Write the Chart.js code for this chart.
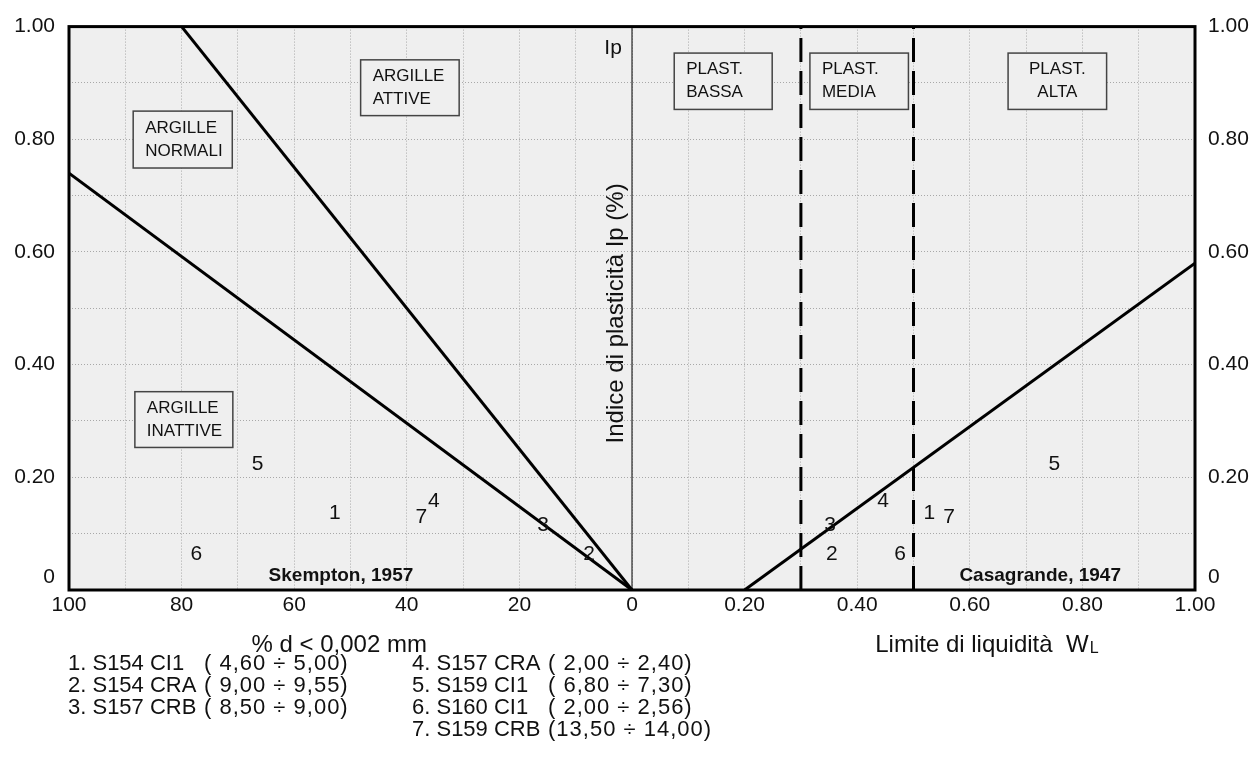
<!DOCTYPE html>
<html lang="it">
<head>
<meta charset="UTF-8">
<title>Carta di attività e carta di plasticità</title>
<script src="https://cdn.jsdelivr.net/npm/chart.js"></script>
<style>
  html, body { margin: 0; padding: 0; background: #ffffff; }
  canvas { display: block; }
</style>
</head>
<body>
<canvas id="plastChart" width="1255" height="766"></canvas>
<script>
// Campioni: numero, % argilla (d < 0,002 mm), limite liquido, indice di plasticità
const sampleLabels = ['1', '2', '3', '4', '5', '6', '7'];
const clayPercent = [52.8, 7.6, 15.8, 35.2, 66.5, 77.4, 37.4];
const liquidLimit = [0.528, 0.355, 0.352, 0.446, 0.75, 0.476, 0.563];
const plasticityIndex = [0.136, 0.064, 0.115, 0.158, 0.223, 0.064, 0.129];

// Sigla e profondità dei campioni (legenda sotto il grafico)
const sampleNames = ['S154 CI1', 'S154 CRA', 'S157 CRB', 'S157 CRA', 'S159 CI1', 'S160 CI1', 'S159 CRB'];
const sampleDepths = ['( 4,60 ÷ 5,00)', '( 9,00 ÷ 9,55)', '( 8,50 ÷ 9,00)', '( 2,00 ÷ 2,40)',
                      '( 6,80 ÷ 7,30)', '( 2,00 ÷ 2,56)', '(13,50 ÷ 14,00)'];

// Skempton 1957: rette di attività (estremi)
const skemptonInactive = [{x: 0, y: 0}, {x: 100, y: 0.74}];
const skemptonActive = [{x: 0, y: 0}, {x: 80, y: 1.00}];

// Casagrande 1947: linea A e limiti di plasticità bassa / media / alta
const casagrandeA = [{x: 0.20, y: 0}, {x: 1.00, y: 0.58}];
const plasticityLimits = [0.30, 0.50];

const FONT = 'Arial, "Liberation Sans", sans-serif';
const INK = '#111111';

const solid = (data, axis, width) => ({
    data: data, xAxisID: axis, showLine: true, borderColor: '#000', borderWidth: width,
    pointRadius: 0, fill: false
});

const datasets = [
    solid(skemptonInactive, 'xClay', 3),
    solid(skemptonActive, 'xClay', 3),
    solid(casagrandeA, 'x', 3),
    solid([{x: 0, y: 0}, {x: 0, y: 1}], 'x', 1),
    ...plasticityLimits.map(v => Object.assign(solid([{x: v, y: 0}, {x: v, y: 1}], 'x', 3), {borderDash: [24, 9]})),
    {
        data: clayPercent.map((c, i) => ({x: c, y: plasticityIndex[i]})),
        xAxisID: 'xClay', pointRadius: 0, showLine: false, sampleText: true
    },
    {
        data: liquidLimit.map((w, i) => ({x: w, y: plasticityIndex[i]})),
        xAxisID: 'x', pointRadius: 0, showLine: false, sampleText: true
    }
];

// riquadri descrittivi, in coordinate dei rispettivi assi
const zones = [
    {axis: 'xClay', x: [88.6, 71.0], y: [0.850, 0.749], lines: ['ARGILLE', 'NORMALI']},
    {axis: 'xClay', x: [48.2, 30.7], y: [0.941, 0.842], lines: ['ARGILLE', 'ATTIVE']},
    {axis: 'xClay', x: [88.3, 70.9], y: [0.352, 0.253], lines: ['ARGILLE', 'INATTIVE']},
    {axis: 'x', x: [0.075, 0.249], y: [0.953, 0.853], lines: ['PLAST.', 'BASSA']},
    {axis: 'x', x: [0.316, 0.491], y: [0.953, 0.853], lines: ['PLAST.', 'MEDIA']},
    {axis: 'x', x: [0.668, 0.843], y: [0.953, 0.853], lines: ['PLAST.', 'ALTA'], center: true}
];

const overlay = {
    id: 'overlay',
    beforeDraw(chart) {
        const {ctx, chartArea: a} = chart;
        ctx.save();
        ctx.fillStyle = '#efefef';
        ctx.fillRect(a.left, a.top, a.right - a.left, a.bottom - a.top);
        ctx.restore();
    },
    afterDatasetsDraw(chart) {
        const {ctx, chartArea: a, scales} = chart;
        const yS = scales.y;
        ctx.save();
        ctx.fillStyle = INK;
        ctx.textAlign = 'center';
        ctx.textBaseline = 'middle';

        // numeri dei campioni
        ctx.font = '21px ' + FONT;
        chart.data.datasets.forEach((ds, i) => {
            if (!ds.sampleText) return;
            chart.getDatasetMeta(i).data.forEach((pt, j) => ctx.fillText(sampleLabels[j], pt.x, pt.y));
        });

        // riquadri
        ctx.font = '17px ' + FONT;
        zones.forEach(z => {
            const xs = scales[z.axis];
            const x1 = Math.min(xs.getPixelForValue(z.x[0]), xs.getPixelForValue(z.x[1]));
            const x2 = Math.max(xs.getPixelForValue(z.x[0]), xs.getPixelForValue(z.x[1]));
            const y1 = yS.getPixelForValue(z.y[0]);
            const y2 = yS.getPixelForValue(z.y[1]);
            ctx.fillStyle = '#efefef';
            ctx.fillRect(x1, y1, x2 - x1, y2 - y1);
            ctx.strokeStyle = '#444';
            ctx.lineWidth = 1.5;
            ctx.strokeRect(x1, y1, x2 - x1, y2 - y1);
            ctx.fillStyle = INK;
            const cy = (y1 + y2) / 2;
            z.lines.forEach((t, k) => {
                const ty = cy + (k - 0.5) * 23;
                if (z.center) {
                    ctx.textAlign = 'center';
                    ctx.fillText(t, (x1 + x2) / 2, ty);
                } else {
                    ctx.textAlign = 'left';
                    ctx.fillText(t, x1 + 12, ty);
                }
            });
        });

        // autori
        ctx.textAlign = 'center';
        ctx.font = 'bold 19px ' + FONT;
        ctx.fillText('Skempton, 1957', scales.xClay.getPixelForValue(51.7), yS.getPixelForValue(0.026));
        ctx.fillText('Casagrande, 1947', scales.x.getPixelForValue(0.725), yS.getPixelForValue(0.026));

        // titolo asse verticale
        ctx.font = '21px ' + FONT;
        ctx.textAlign = 'right';
        ctx.fillText('Ip', scales.xClay.getPixelForValue(1.8), yS.getPixelForValue(0.961));
        ctx.save();
        ctx.translate(scales.xClay.getPixelForValue(1.6), yS.getPixelForValue(0.491));
        ctx.rotate(-Math.PI / 2);
        ctx.font = '24px ' + FONT;
        ctx.textAlign = 'center';
        ctx.textBaseline = 'alphabetic';
        ctx.fillText('Indice di plasticità Ip (%)', 0, 0);
        ctx.restore();

        // cornice
        ctx.strokeStyle = '#000';
        ctx.lineWidth = 3;
        ctx.strokeRect(a.left, a.top, a.right - a.left, a.bottom - a.top);
        ctx.restore();
    },
    afterDraw(chart) {
        const {ctx, chartArea: a, scales} = chart;
        ctx.save();
        ctx.fillStyle = INK;
        ctx.textBaseline = 'middle';

        // lo zero degli assi verticali, sollevato per non urtare le etichette in basso
        ctx.font = '21px ' + FONT;
        const zeroY = scales.y.getPixelForValue(0.023);
        ctx.textAlign = 'right';
        ctx.fillText('0', scales.y.right - 14, zeroY);
        ctx.textAlign = 'left';
        ctx.fillText('0', scales.y2.left + 13, zeroY);

        // titoli degli assi orizzontali
        ctx.font = '24px ' + FONT;
        ctx.textAlign = 'center';
        ctx.fillText('% d < 0,002 mm', scales.xClay.getPixelForValue(52), a.bottom + 55);
        ctx.textAlign = 'left';
        const tx = scales.x.getPixelForValue(0.432);
        const main = 'Limite di liquidità  W';
        ctx.fillText(main, tx, a.bottom + 55);
        const wW = ctx.measureText(main).width;
        ctx.font = '16px ' + FONT;
        ctx.fillText('L', tx + wW + 1, a.bottom + 59);

        // legenda dei campioni
        ctx.font = '22px ' + FONT;
        sampleNames.forEach((name, i) => {
            const col = i < 3 ? 0 : 1;
            const row = i < 3 ? i : i - 3;
            const x0 = a.left - 1 + col * 344;
            const y0 = a.bottom + 74 + row * 22;
            ctx.letterSpacing = '0px';
            ctx.fillText((i + 1) + '. ' + name, x0, y0);
            ctx.letterSpacing = '1px';
            ctx.fillText(sampleDepths[i], x0 + 136, y0);
        });
        ctx.restore();
    }
};

const tickFont = {family: FONT, size: 21};
const gridStyle = {color: '#a8a8a8', lineWidth: 1, drawTicks: false};
const yLabel = v => {
    const k = Math.round(v * 10);
    if (k % 2 || k === 0) return '';
    return (k / 10).toFixed(2);
};

new Chart(document.getElementById('plastChart'), {
    type: 'scatter',
    data: {datasets: datasets},
    options: {
        responsive: false,
        animation: false,
        layout: {padding: {top: 24, left: 0, right: 0, bottom: 0}},
        plugins: {legend: {display: false}, tooltip: {enabled: false}},
        scales: {
            x: {
                type: 'linear', min: -1, max: 1,
                grid: gridStyle,
                border: {display: false, dash: [1, 2]},
                ticks: {
                    stepSize: 0.1, autoSkip: false, maxRotation: 0, padding: 3,
                    color: INK, font: tickFont,
                    callback: v => {
                        const k = Math.round(v * 10);
                        if (k % 2) return '';
                        if (k < 0) return String(-k * 10);
                        return k === 0 ? '0' : (k / 10).toFixed(2);
                    }
                },
                afterFit: s => { s.height = 176; }
            },
            xClay: {
                type: 'linear', min: -100, max: 100, reverse: true, display: false
            },
            y: {
                type: 'linear', position: 'left', min: 0, max: 1,
                grid: gridStyle,
                border: {display: false, dash: [1, 2]},
                ticks: {stepSize: 0.1, autoSkip: false, padding: 14, color: INK, font: tickFont, callback: yLabel},
                afterFit: s => { s.width = 69; }
            },
            y2: {
                type: 'linear', position: 'right', min: 0, max: 1,
                grid: {display: false, drawTicks: false},
                border: {display: false},
                ticks: {stepSize: 0.1, autoSkip: false, padding: 13, color: INK, font: tickFont, callback: yLabel},
                afterFit: s => { s.width = 60; }
            }
        }
    },
    plugins: [overlay]
});
</script>
</body>
</html>
